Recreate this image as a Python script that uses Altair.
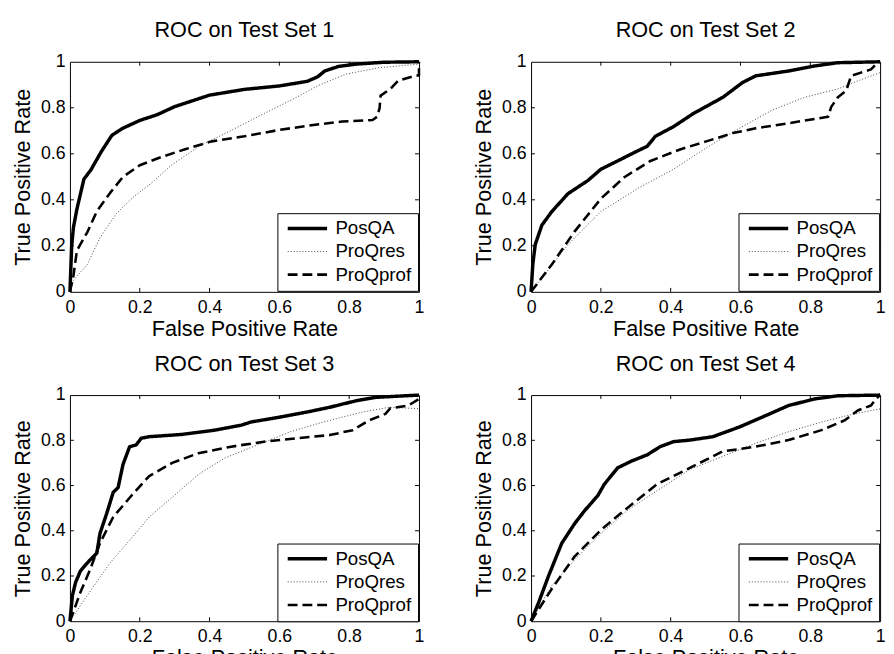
import altair as alt
import pandas as pd

series = ["PosQA", "ProQres", "ProQprof"]
tick_values = [0, 0.2, 0.4, 0.6, 0.8, 1]
inner_ticks = [0.2, 0.4, 0.6, 0.8]
titles = ["ROC on Test Set 1", "ROC on Test Set 2", "ROC on Test Set 3", "ROC on Test Set 4"]

# ---- Test set 1 ----
s1_posqa_x = [0, 0.005, 0.01, 0.02, 0.04, 0.06, 0.09, 0.12, 0.15, 0.2, 0.25, 0.3, 0.4, 0.5, 0.6, 0.68, 0.71, 0.73, 0.77, 0.82, 0.9, 1.0]
s1_posqa_y = [0, 0.2, 0.28, 0.36, 0.49, 0.53, 0.61, 0.68, 0.71, 0.745, 0.77, 0.805, 0.855, 0.88, 0.895, 0.915, 0.935, 0.96, 0.98, 0.99, 0.998, 1.0]
s1_res_x = [0, 0.01, 0.05, 0.086, 0.133, 0.18, 0.237, 0.29, 0.37, 0.46, 0.556, 0.65, 0.71, 0.79, 0.885, 1.0]
s1_res_y = [0, 0.05, 0.12, 0.235, 0.34, 0.41, 0.477, 0.55, 0.633, 0.70, 0.775, 0.846, 0.896, 0.946, 0.974, 0.99]
s1_prof_x = [0, 0.01, 0.02, 0.05, 0.077, 0.115, 0.152, 0.2, 0.256, 0.33, 0.406, 0.5, 0.6, 0.697, 0.78, 0.867, 0.88, 0.887, 0.89, 0.918, 0.94, 0.99, 1.0, 1.0]
s1_prof_y = [0, 0.07, 0.18, 0.26, 0.35, 0.43, 0.5, 0.55, 0.583, 0.62, 0.654, 0.676, 0.704, 0.725, 0.74, 0.747, 0.761, 0.797, 0.853, 0.882, 0.917, 0.94, 0.94, 1.0]

# ---- Test set 2 ----
s2_posqa_x = [0, 0.005, 0.012, 0.031, 0.06, 0.106, 0.163, 0.2, 0.248, 0.295, 0.333, 0.356, 0.408, 0.465, 0.55, 0.606, 0.644, 0.738, 0.813, 0.879, 1.0]
s2_posqa_y = [0, 0.12, 0.206, 0.29, 0.35, 0.427, 0.484, 0.533, 0.569, 0.605, 0.633, 0.676, 0.718, 0.775, 0.846, 0.91, 0.939, 0.96, 0.982, 0.996, 1.0]
s2_res_x = [0, 0.106, 0.2, 0.304, 0.408, 0.502, 0.597, 0.691, 0.785, 0.879, 0.936, 1.0]
s2_res_y = [0, 0.206, 0.349, 0.448, 0.533, 0.626, 0.711, 0.79, 0.846, 0.882, 0.917, 0.953]
s2_prof_x = [0, 0.06, 0.125, 0.2, 0.267, 0.342, 0.427, 0.502, 0.578, 0.644, 0.738, 0.851, 0.86, 0.879, 0.903, 0.917, 0.945, 0.974, 0.988, 1.0]
s2_prof_y = [0, 0.12, 0.263, 0.405, 0.498, 0.569, 0.619, 0.654, 0.69, 0.711, 0.733, 0.761, 0.804, 0.846, 0.875, 0.939, 0.953, 0.967, 0.989, 1.0]

# ---- Test set 3 ----
s3_posqa_x = [0, 0.007, 0.016, 0.03, 0.054, 0.077, 0.086, 0.105, 0.124, 0.138, 0.152, 0.171, 0.19, 0.204, 0.227, 0.321, 0.415, 0.491, 0.519, 0.603, 0.679, 0.744, 0.82, 0.876, 1.0]
s3_posqa_y = [0, 0.113, 0.171, 0.222, 0.265, 0.301, 0.388, 0.475, 0.57, 0.591, 0.693, 0.772, 0.78, 0.809, 0.816, 0.826, 0.845, 0.867, 0.881, 0.903, 0.925, 0.946, 0.975, 0.99, 1.0]
s3_res_x = [0, 0.049, 0.115, 0.18, 0.227, 0.293, 0.368, 0.444, 0.538, 0.632, 0.726, 0.838, 0.914, 1.0]
s3_res_y = [0, 0.113, 0.258, 0.374, 0.461, 0.548, 0.649, 0.722, 0.78, 0.838, 0.881, 0.925, 0.946, 0.94]
s3_prof_x = [0, 0.03, 0.058, 0.086, 0.124, 0.18, 0.227, 0.293, 0.368, 0.462, 0.556, 0.65, 0.744, 0.81, 0.857, 0.904, 0.918, 0.97, 1.0]
s3_prof_y = [0, 0.128, 0.229, 0.345, 0.461, 0.562, 0.642, 0.7, 0.743, 0.772, 0.794, 0.809, 0.823, 0.845, 0.888, 0.917, 0.942, 0.954, 0.983]

# ---- Test set 4 ----
s4_posqa_x = [0, 0.022, 0.05, 0.088, 0.125, 0.154, 0.191, 0.21, 0.248, 0.286, 0.333, 0.37, 0.408, 0.455, 0.521, 0.597, 0.663, 0.738, 0.813, 0.879, 1.0]
s4_posqa_y = [0, 0.084, 0.2, 0.345, 0.432, 0.49, 0.555, 0.606, 0.678, 0.707, 0.736, 0.772, 0.794, 0.801, 0.816, 0.859, 0.903, 0.954, 0.983, 0.997, 1.0]
s4_res_x = [0, 0.059, 0.125, 0.2, 0.276, 0.361, 0.455, 0.549, 0.644, 0.738, 0.832, 0.926, 1.0]
s4_res_y = [0, 0.157, 0.272, 0.388, 0.49, 0.577, 0.671, 0.729, 0.787, 0.838, 0.881, 0.917, 0.939]
s4_prof_x = [0, 0.059, 0.125, 0.2, 0.267, 0.361, 0.455, 0.549, 0.644, 0.738, 0.832, 0.898, 0.936, 0.974, 0.988, 1.0]
s4_prof_y = [0, 0.142, 0.287, 0.403, 0.49, 0.606, 0.678, 0.751, 0.772, 0.801, 0.845, 0.888, 0.932, 0.954, 0.983, 1.0]

sets = [
    [(s1_posqa_x, s1_posqa_y), (s1_res_x, s1_res_y), (s1_prof_x, s1_prof_y)],
    [(s2_posqa_x, s2_posqa_y), (s2_res_x, s2_res_y), (s2_prof_x, s2_prof_y)],
    [(s3_posqa_x, s3_posqa_y), (s3_res_x, s3_res_y), (s3_prof_x, s3_prof_y)],
    [(s4_posqa_x, s4_posqa_y), (s4_res_x, s4_res_y), (s4_prof_x, s4_prof_y)],
]

FONT = "Liberation Sans"
W = 355
HEIGHTS = [234, 234, 230, 230]
LEG_POS = [(211, 154), (211, 154), (211, 151), (211, 151)]


def make_df(curves):
    rows = []
    for name, (xs, ys) in zip(series, curves):
        for i, (a, b) in enumerate(zip(xs, ys)):
            rows.append({"fpr": a, "tpr": b, "method": name, "idx": i})
    return pd.DataFrame(rows)


def panel(k):
    df = make_df(sets[k])
    H = HEIGHTS[k]
    lx, ly = LEG_POS[k]
    leg = alt.Legend(
        title=None, orient="none", legendX=lx, legendY=ly,
        strokeColor="black", fillColor="white", padding=6, rowPadding=3.5,
        symbolSize=100, symbolType="M-1,0H7", labelFontSize=19, labelFont=FONT,
        labelColor="black", labelOffset=34, cornerRadius=0,
    )
    xenc = alt.X("fpr:Q", scale=alt.Scale(domain=[0, 1], nice=False),
                 axis=alt.Axis(values=tick_values, format="~g"),
                 title="False Positive Rate")
    yenc = alt.Y("tpr:Q", scale=alt.Scale(domain=[0, 1], nice=False),
                 axis=alt.Axis(values=tick_values, format="~g"),
                 title="True Positive Rate")
    lines = alt.Chart(df).mark_line(strokeCap="butt", strokeJoin="round").encode(
        x=xenc,
        y=yenc,
        color=alt.Color("method:N", scale=alt.Scale(domain=series, range=["black", "#444444", "black"]), legend=leg),
        strokeDash=alt.StrokeDash("method:N", scale=alt.Scale(domain=series, range=[[1, 0], [1, 2], [10, 5]]), legend=leg),
        strokeWidth=alt.StrokeWidth("method:N", scale=alt.Scale(type="ordinal", domain=series, range=[3.5, 1, 2.6]), legend=leg),
        order=alt.Order("idx:Q"),
    )
    xt = pd.DataFrame({"fpr": inner_ticks})
    yt = pd.DataFrame({"tpr": inner_ticks})
    xpos = alt.X("fpr:Q", title="False Positive Rate")
    ypos = alt.Y("tpr:Q", title="True Positive Rate")
    t1 = alt.Chart(xt).mark_rule(color="black", strokeWidth=1).encode(x=xpos, y=alt.value(0), y2=alt.value(4))
    t2 = alt.Chart(xt).mark_rule(color="black", strokeWidth=1).encode(x=xpos, y=alt.value(H), y2=alt.value(H - 4))
    t3 = alt.Chart(yt).mark_rule(color="black", strokeWidth=1).encode(y=ypos, x=alt.value(0), x2=alt.value(4))
    t4 = alt.Chart(yt).mark_rule(color="black", strokeWidth=1).encode(y=ypos, x=alt.value(W), x2=alt.value(W - 4))
    return alt.layer(lines, t1, t2, t3, t4).properties(
        width=W, height=H, title=alt.TitleParams(titles[k])
    )


res = dict(color="independent", strokeDash="independent", strokeWidth="independent")
row1 = alt.hconcat(panel(0), panel(1), spacing=48).resolve_legend(**res)
row2 = alt.hconcat(panel(2), panel(3), spacing=48).resolve_legend(**res)
chart = alt.vconcat(row1, row2, spacing=12).resolve_legend(**res).properties(
    padding={"left": 3, "top": 5, "right": 0, "bottom": 0}
).configure_view(stroke="black", strokeWidth=1).configure_axis(
    grid=False, domain=False, ticks=False, tickSize=0,
    labelFontSize=18, labelFont=FONT, labelColor="black",
    titleFontSize=22, titleFont=FONT, titleFontWeight="normal", titleColor="black",
    labelFlush=False, labelOverlap=False,
).configure_axisX(labelPadding=7, titlePadding=2).configure_axisY(
    labelPadding=5, titlePadding=6
).configure_title(
    fontSize=22, font=FONT, fontWeight="normal", color="black", offset=11
)

chart.save("out.html", embed_options={"renderer": "svg", "actions": False})
